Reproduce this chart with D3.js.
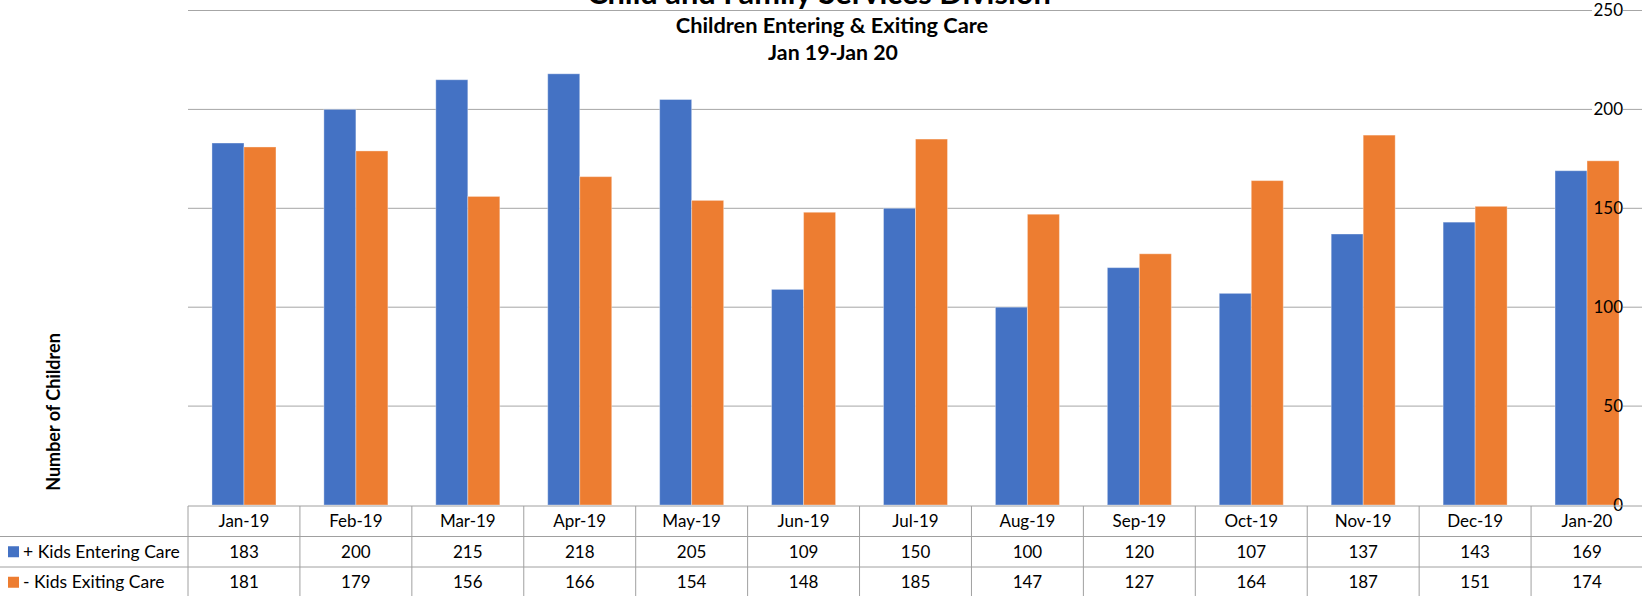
<!DOCTYPE html>
<html>
<head>
<meta charset="utf-8">
<script src="https://cdn.jsdelivr.net/npm/d3@7"></script>
<style>
  body { margin: 0; background: #fff; }
  svg { display: block; font-family: Lato, "Open Sans", sans-serif; }
</style>
</head>
<body>
<svg id="chart" width="1642" height="596"></svg>
<script>
// months along the bottom
const months = ["Jan-19", "Feb-19", "Mar-19", "Apr-19", "May-19", "Jun-19", "Jul-19",
                "Aug-19", "Sep-19", "Oct-19", "Nov-19", "Dec-19", "Jan-20"];
const entering = [183, 200, 215, 218, 205, 109, 150, 100, 120, 107, 137, 143, 169];
const exiting  = [181, 179, 156, 166, 154, 148, 185, 147, 127, 164, 187, 151, 174];
const seriesNames = ["+ Kids Entering Care", "- Kids Exiting Care"];
const yTicks = [0, 50, 100, 150, 200, 250];

const colors = ["#4472c4", "#ed7d31"];
const gridColor = "#a6a6a6";

const svg = d3.select("#chart");
const W = 1642;

//// scales
const x = d3.scaleBand().domain(months).range([188, 1643]).paddingInner(0).paddingOuter(0);
const y = d3.scaleLinear().domain([0, 250]).range([505, 10.5]);
const bw = 32; // bar width
const sub = d3.scaleBand().domain([0, 1]).range([(x.bandwidth() - 2 * bw) / 2, (x.bandwidth() + 2 * bw) / 2]);

//// gridlines (broken where the right-side labels sit)
const labelRight = 1623;
yTicks.forEach(t => {
  if (t === 0) return;
  svg.append("line")
    .attr("x1", 188).attr("x2", labelRight - 31)
    .attr("y1", y(t)).attr("y2", y(t))
    .attr("stroke", gridColor).attr("stroke-width", 1);
  svg.append("line")
    .attr("x1", labelRight).attr("x2", W)
    .attr("y1", y(t)).attr("y2", y(t))
    .attr("stroke", gridColor).attr("stroke-width", 1);
});

//// bars
const rows = months.map((m, i) => ({ month: m, vals: [entering[i], exiting[i]] }));
const groups = svg.selectAll("g.month")
  .data(rows)
  .join("g")
  .attr("class", "month")
  .attr("transform", d => `translate(${x(d.month)},0)`);

groups.selectAll("rect")
  .data(d => d.vals.map((v, k) => ({ k: k, v: v })))
  .join("rect")
  .attr("x", d => sub(d.k))
  .attr("width", bw)
  .attr("y", d => y(d.v))
  .attr("height", d => y(0) - y(d.v))
  .attr("fill", d => colors[d.k])
  .attr("stroke", "#ffffff").attr("stroke-opacity", 0.35).attr("stroke-width", 1);

//// y tick labels on the right
svg.selectAll("text.ytick")
  .data(yTicks)
  .join("text")
  .attr("class", "ytick")
  .attr("x", labelRight)
  .attr("y", d => y(d))
  .attr("dy", "0.35em")
  .attr("text-anchor", "end")
  .attr("font-size", 17)
  .attr("fill", "#000")
  .text(d => d);

//// titles
svg.append("text")
  .attr("x", 819).attr("y", 4)
  .attr("text-anchor", "middle")
  .attr("font-size", 30.8).attr("font-weight", "bold")
  .text("Child and Family Services Division");
svg.append("text")
  .attr("x", 832).attr("y", 33)
  .attr("text-anchor", "middle")
  .attr("font-size", 21.8).attr("font-weight", "bold")
  .text("Children Entering & Exiting Care");
svg.append("text")
  .attr("x", 833).attr("y", 60)
  .attr("text-anchor", "middle")
  .attr("font-size", 21.3).attr("font-weight", "bold")
  .text("Jan 19-Jan 20");

// y axis title
svg.append("text")
  .attr("transform", "translate(60,412) rotate(-90)")
  .attr("text-anchor", "middle")
  .attr("font-size", 18).attr("font-weight", "bold")
  .text("Number of Children");

//// data table
const tableTop = 506, rowH = 30.5;
const lineColor = "#a0a0a0";

// horizontal lines
svg.append("line").attr("x1", 188).attr("x2", W).attr("y1", tableTop).attr("y2", tableTop)
  .attr("stroke", lineColor);
[1, 2, 3].forEach(r => {
  svg.append("line").attr("x1", 0).attr("x2", W)
    .attr("y1", tableTop + r * rowH).attr("y2", tableTop + r * rowH)
    .attr("stroke", lineColor);
});
// vertical lines
svg.selectAll("line.vcol")
  .data(months)
  .join("line")
  .attr("class", "vcol")
  .attr("x1", d => x(d)).attr("x2", d => x(d))
  .attr("y1", tableTop).attr("y2", 596)
  .attr("stroke", lineColor);

// header
svg.selectAll("text.month")
  .data(months)
  .join("text")
  .attr("class", "month")
  .attr("x", d => x(d) + x.bandwidth() / 2)
  .attr("y", tableTop + rowH / 2)
  .attr("dy", "0.35em")
  .attr("text-anchor", "middle")
  .attr("font-size", 17)
  .text(d => d);

// value rows
[entering, exiting].forEach((vals, k) => {
  const ry = tableTop + (k + 1) * rowH + rowH / 2;
  svg.selectAll("text.val" + k)
    .data(vals)
    .join("text")
    .attr("class", "val" + k)
    .attr("x", (d, i) => x(months[i]) + x.bandwidth() / 2)
    .attr("y", ry)
    .attr("dy", "0.35em")
    .attr("text-anchor", "middle")
    .attr("font-size", 17)
    .text(d => d);

  svg.append("rect")
    .attr("x", 8).attr("y", ry - 5.5)
    .attr("width", 11).attr("height", 11)
    .attr("fill", colors[k]);
  svg.append("text")
    .attr("x", 23).attr("y", ry)
    .attr("dy", "0.35em")
    .attr("font-size", 17.5)
    .text(seriesNames[k]);
});
</script>
</body>
</html>
